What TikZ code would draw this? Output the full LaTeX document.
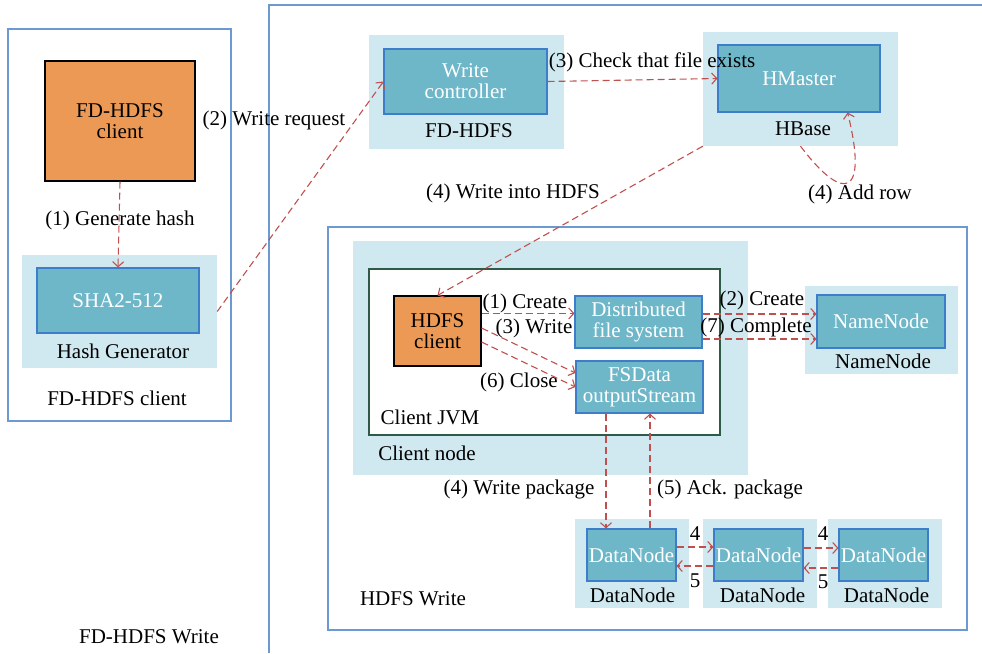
\documentclass[tikz,border=0pt]{standalone}
\usepackage{fontspec}
\setmainfont{Liberation Serif}
\usetikzlibrary{arrows.meta,calc}

\definecolor{panelc}{HTML}{D0E8EF}
\definecolor{tealc}{HTML}{6EB7C9}
\definecolor{edgeb}{HTML}{3D7DC9}
\definecolor{framec}{HTML}{6C9AD0}
\definecolor{orangec}{HTML}{EC9955}
\definecolor{flowc}{HTML}{C0504D}
\definecolor{jvmc}{HTML}{2F5A48}

\tikzset{
  every node/.style={font=\fontsize{21}{21}\selectfont, inner sep=0pt},
  panel/.style={fill=panelc, draw=none},
  proc/.style={fill=tealc, draw=edgeb, line width=1.1pt, text=white, align=center},
  orangebox/.style={fill=orangec, draw=black, line width=1.1pt, align=center},
  frame/.style={draw=framec, line width=1.3pt},
  lbl/.style={text=black},
  flow/.style={draw=flowc, line width=1.1pt, dash pattern=on 7pt off 4pt,
    -{Straight Barb[length=5pt,width=11pt]}},
}

\begin{document}
\begin{tikzpicture}[x=1pt,y=-1pt]
\useasboundingbox (0,0) rectangle (982,653);

% ---------- FD-HDFS client (left) ----------
\draw[frame] (8,29) rectangle (231,421);
\node[orangebox, minimum width=150, minimum height=120] (fdcli) at (120,121) {FD-HDFS\\ client};
\node[panel, minimum width=195, minimum height=113] (hashpanel) at (119.5,311.5) {};
\node[proc, minimum width=162, minimum height=65] (sha) at (118,300.5) {SHA2-512};
\node[lbl] (hashlbl) at (123,351) {Hash Generator};
\node[lbl] (clilbl) at (117,398) {FD-HDFS client};
\node[lbl] (genlbl) at (120,220) {(1) Generate hash};
\node[lbl] (fdwlbl) at (149,637) {FD-HDFS Write};

% ---------- FD-HDFS Write frame (open to the right and below) ----------
\draw[frame] (269,653) -- (269,5) -- (982,5);

% ---------- FD-HDFS write controller ----------
\node[panel, minimum width=195, minimum height=114] (fdpanel) at (466.5,92) {};
\node[proc, minimum width=163, minimum height=65] (wctl) at (465.5,81.5) {Write\\ controller};
\node[lbl] (fdlbl) at (469,131) {FD-HDFS};

% ---------- HBase ----------
\node[panel, minimum width=195, minimum height=114] (hbpanel) at (800.5,89) {};
\node[proc, minimum width=162, minimum height=67] (hmaster) at (799,78.5) {HMaster};
\node[lbl] (hblbl) at (803,129) {HBase};

\node[lbl] (reqlbl) at (274,120) {(2) Write request};
\node[lbl] (chklbl) at (652,62) {(3) Check that file exists};
\node[lbl] (intolbl) at (513,193) {(4) Write into HDFS};
\node[lbl] (rowlbl) at (860,194) {(4) Add row};

% ---------- HDFS Write ----------
\draw[frame] (328,227) rectangle (967,630);
\node[lbl] (hwlbl) at (413,599) {HDFS Write};

\node[panel, minimum width=395, minimum height=234] (cnpanel) at (550.5,358) {};
\node[fill=white, draw=jvmc, line width=1.1pt, minimum width=351, minimum height=166] (jvm) at (544.5,352) {};
\node[lbl] (jvmlbl) at (430,417) {Client JVM};
\node[lbl] (cnlbl) at (427,453) {Client node};

\node[orangebox, minimum width=87, minimum height=70] (hcli) at (437.5,331) {HDFS\\ client};
\node[proc, minimum width=127, minimum height=52] (dfs) at (638.5,322) {Distributed\\ file system};
\node[proc, minimum width=127, minimum height=52] (fsd) at (639.5,387) {FSData\\ outputStream};

\node[panel, minimum width=153, minimum height=88] (nnpanel) at (881.5,330) {};
\node[proc, minimum width=128, minimum height=53] (nn) at (881,321.5) {NameNode};
\node[lbl] (nnlbl) at (883,361) {NameNode};

% data node pipeline
\node[panel, minimum width=114, minimum height=89] (dnp1) at (632,563.5) {};
\node[panel, minimum width=114, minimum height=89] (dnp2) at (760,563.5) {};
\node[panel, minimum width=114, minimum height=89] (dnp3) at (885,563.5) {};
\node[proc, minimum width=89, minimum height=52] (dn1) at (631.5,555) {DataNode};
\node[proc, minimum width=89, minimum height=52] (dn2) at (758.5,555) {DataNode};
\node[proc, minimum width=89, minimum height=52] (dn3) at (883.5,555) {DataNode};
\node[lbl] (dnl1) at (632.5,595) {DataNode};
\node[lbl] (dnl2) at (762.5,595) {DataNode};
\node[lbl] (dnl3) at (886.5,595) {DataNode};

\node[lbl] (c1lbl) at (525,303) {(1) Create};
\node[lbl] (w3lbl) at (534,328) {(3) Write};
\node[lbl] (c6lbl) at (519,382) {(6) Close};
\node[lbl] (c2lbl) at (762,300) {(2) Create};
\node[lbl] (c7lbl) at (756,327) {(7) Complete};
\node[lbl] (wplbl) at (519,489) {(4) Write package};
\node[lbl] (aplbl) at (730,489) {(5) Ack. package};
\node[lbl] (f4a) at (695,534) {4};
\node[lbl] (f5a) at (695,581) {5};
\node[lbl] (f4b) at (823,534) {4};
\node[lbl] (f5b) at (823,582) {5};

% ---------- connectors ----------
\draw[flow] (fdcli.south) -- (sha.north);
\draw[flow] (hashpanel.east) -- (wctl.west);
\draw[flow] (wctl.east) -- (hmaster.west);
\coordinate (rowend) at ($(hmaster.south east)+(-33,0)$);
\draw[flow] (hbpanel.south) .. controls (845,205) and (868,195) .. (rowend);
\draw[flow] (hbpanel.south west) -- (hcli.north);

\draw[flow] ([yshift=-18pt]hcli.north east) -- ([yshift=-18pt]hcli.north east -| dfs.west);
\draw[flow] ([yshift=3pt]hcli.east) -- ([yshift=14pt]fsd.west);
\draw[flow] ([yshift=-11pt]hcli.east) -- (fsd.west);
\draw[flow] ([yshift=8pt]dfs.east) -- ([yshift=8pt]dfs.east -| nn.west);
\draw[flow] ([yshift=-17pt]dfs.east) -- ([yshift=-17pt]dfs.east -| nn.west);

\draw[flow] ([xshift=-33.5pt]fsd.south) -- ([xshift=-33.5pt]fsd.south |- dn1.north);
\draw[flow] ([xshift=18.5pt]dn1.north) -- ([xshift=18.5pt]dn1.north |- fsd.south);

\draw[flow] ([yshift=8pt]dn1.east) -- ([yshift=8pt]dn1.east -| dn2.west);
\draw[flow] ([yshift=-11pt]dn2.west) -- ([yshift=-11pt]dn2.west -| dn1.east);
\draw[flow] ([yshift=7pt]dn2.east) -- ([yshift=7pt]dn2.east -| dn3.west);
\draw[flow] ([yshift=-13pt]dn3.west) -- ([yshift=-13pt]dn3.west -| dn2.east);
\end{tikzpicture}
\end{document}
